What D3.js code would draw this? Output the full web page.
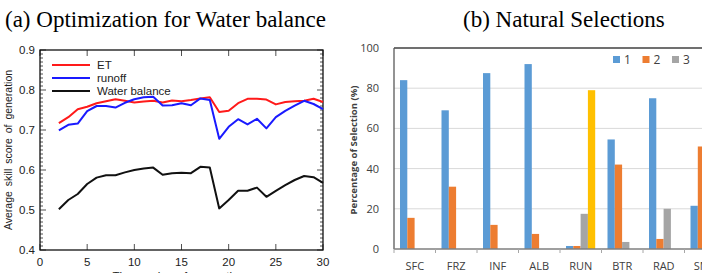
<!DOCTYPE html>
<html>
<head>
<meta charset="utf-8">
<script src="https://cdn.jsdelivr.net/npm/d3@7"></script>
<style>
  body { margin: 0; background: #fff; }
  svg { display: block; }
</style>
</head>
<body>
<svg id="chart" width="702" height="273"></svg>
<script>
// ---- (a) data: skill score per generation ----
let generations = [2,3,4,5,6,7,8,9,10,11,12,13,14,15,16,17,18,19,20,21,22,23,24,25,26,27,28,29,30];
let etScore = [0.717,0.732,0.752,0.758,0.767,0.772,0.777,0.773,0.769,0.771,0.773,0.769,0.774,0.772,0.775,0.779,0.782,0.745,0.748,0.767,0.778,0.778,0.776,0.764,0.770,0.772,0.773,0.778,0.770];
let runoffScore = [0.699,0.713,0.716,0.747,0.760,0.760,0.756,0.768,0.777,0.782,0.783,0.761,0.762,0.767,0.762,0.779,0.775,0.678,0.708,0.727,0.714,0.728,0.704,0.732,0.748,0.761,0.773,0.765,0.752];
let wbScore = [0.502,0.525,0.540,0.565,0.581,0.587,0.587,0.594,0.600,0.604,0.606,0.588,0.592,0.593,0.592,0.608,0.606,0.504,0.525,0.548,0.548,0.556,0.533,0.548,0.562,0.575,0.585,0.582,0.568];
let lineNames = ["ET", "runoff", "Water balance"];
let lineColors = ["#ff1a1a", "#1a1aff", "#111111"];
let yTicksA = [0.4,0.5,0.6,0.7,0.8,0.9];
let xTicksA = [0,5,10,15,20,25,30];

// ---- (b) data: percentage of selection ----
let params = ["SFC","FRZ","INF","ALB","RUN","BTR","RAD","SMC","VEG"];
let sel1 = [84,69,87.5,92,1.5,54.5,75,21.5,0];
let sel2 = [15.5,31,12,7.5,1.5,42,5,51,0];
let sel3 = [0,0,0,0,17.5,3.5,20,0,0];
let sel4 = [0,0,0,0,79,0,0,0,0];
let selNames = ["1","2","3"];
let barColors = ["#5b9bd5","#ed7d31","#a5a5a5","#ffc000"];
let yTicksB = [0,20,40,60,80,100];

const svg = d3.select("#chart");

// titles
svg.append("text").attr("x", 5).attr("y", 27)
  .style("font-family", "Liberation Serif, Times New Roman, serif")
  .style("font-size", "23px").text("(a) Optimization for Water balance");
svg.append("text").attr("x", 463).attr("y", 27)
  .style("font-family", "Liberation Serif, Times New Roman, serif")
  .style("font-size", "23px").text("(b) Natural Selections");

// ================= chart (a) =================
const ax = d3.scaleLinear().domain([0, 30]).range([40, 323]);
const ay = d3.scaleLinear().domain([0.4, 0.9]).range([250, 50]);
const ga = svg.append("g").style("font-family", "Liberation Sans, Arial, sans-serif");

// minor ticks on y, both sides
d3.range(0.4, 0.9001, 0.01).forEach((v, i) => {
  const major = i % 10 === 0;
  const len = major ? 6 : 3;
  ga.append("line").attr("x1", ax(0)).attr("x2", ax(0) + len)
    .attr("y1", ay(v)).attr("y2", ay(v)).attr("stroke", "#222").attr("stroke-width", 0.8);
  ga.append("line").attr("x1", ax(30)).attr("x2", ax(30) - len)
    .attr("y1", ay(v)).attr("y2", ay(v)).attr("stroke", "#222").attr("stroke-width", 0.8);
});
xTicksA.forEach((v) => {
  ga.append("line").attr("x1", ax(v)).attr("x2", ax(v))
    .attr("y1", ay(0.4)).attr("y2", ay(0.4) - 6).attr("stroke", "#222").attr("stroke-width", 0.8);
  ga.append("line").attr("x1", ax(v)).attr("x2", ax(v))
    .attr("y1", ay(0.9)).attr("y2", ay(0.9) + 6).attr("stroke", "#222").attr("stroke-width", 0.8);
  ga.append("text").attr("x", ax(v)).attr("y", 266)
    .attr("text-anchor", "middle").style("font-size", "11.5px").attr("fill", "#222")
    .text(v);
});
yTicksA.forEach((v) => {
  ga.append("text").attr("x", 35).attr("y", ay(v) + 4)
    .attr("text-anchor", "end").style("font-size", "11.5px").attr("fill", "#222")
    .text(d3.format(".1f")(v));
});
ga.append("rect").attr("x", ax(0)).attr("y", ay(0.9))
  .attr("width", ax(30) - ax(0)).attr("height", ay(0.4) - ay(0.9))
  .attr("fill", "none").attr("stroke", "#111").attr("stroke-width", 1.3);

ga.append("text").attr("transform", "translate(12,150) rotate(-90)")
  .attr("text-anchor", "middle").style("font-size", "10.5px").style("word-spacing", "2px")
  .attr("fill", "#222").text("Average skill score of generation");
ga.append("text").attr("x", ax(15)).attr("y", 280)
  .attr("text-anchor", "middle").style("font-size", "11.5px").attr("fill", "#222")
  .text("The number of generations");

const lineGen = d3.line().x((d) => ax(d[0])).y((d) => ay(d[1]));
[etScore, runoffScore, wbScore].forEach((series, k) => {
  const pts = generations.map((g, i) => [g, series[i]]);
  ga.append("path").datum(pts).attr("d", lineGen)
    .attr("fill", "none").attr("stroke", lineColors[k]).attr("stroke-width", 2)
    .attr("stroke-linejoin", "round");
});

// legend (a)
lineNames.forEach((name, k) => {
  const yy = 65 + k * 13;
  ga.append("line").attr("x1", 52).attr("x2", 90).attr("y1", yy).attr("y2", yy)
    .attr("stroke", lineColors[k]).attr("stroke-width", 2);
  ga.append("text").attr("x", 97).attr("y", yy + 4)
    .style("font-size", "11.5px").attr("fill", "#222").text(name);
});

// ================= chart (b) =================
const bx = d3.scaleBand().domain(params).range([394, 394 + 41.5 * params.length]).padding(0);
const bInner = d3.scaleBand().domain([0, 1, 2, 3]).range([6, 35.2]).padding(0);
const by = d3.scaleLinear().domain([0, 100]).range([249, 48]);
const gb = svg.append("g").style("font-family", "Open Sans, Liberation Sans, sans-serif");

yTicksB.forEach((v) => {
  if (v > 0 && v < 100) {
    gb.append("line").attr("x1", 394).attr("x2", 720).attr("y1", by(v)).attr("y2", by(v))
      .attr("stroke", "#d9d9d9").attr("stroke-width", 1);
  }
  gb.append("text").attr("x", 379).attr("y", by(v) + 4)
    .attr("text-anchor", "end").style("font-size", "11px").attr("fill", "#404040").text(v);
});
// top border
gb.append("line").attr("x1", 394).attr("x2", 720).attr("y1", by(100)).attr("y2", by(100))
  .attr("stroke", "#404040").attr("stroke-width", 1.3);

const allSel = [sel1, sel2, sel3, sel4];
allSel.forEach((series, k) => {
  gb.selectAll(null).data(params).enter().append("rect")
    .attr("x", (d) => bx(d) + bInner(k))
    .attr("width", bInner.bandwidth())
    .attr("y", (d, i) => by(series[i]))
    .attr("height", (d, i) => by(0) - by(series[i]))
    .attr("fill", barColors[k]);
});

// axes lines
gb.append("line").attr("x1", 394).attr("x2", 394).attr("y1", by(100)).attr("y2", by(0))
  .attr("stroke", "#595959").attr("stroke-width", 1.3);
gb.append("line").attr("x1", 394).attr("x2", 720).attr("y1", by(0)).attr("y2", by(0))
  .attr("stroke", "#7f7f7f").attr("stroke-width", 1.3);
params.forEach((p) => {
  gb.append("line").attr("x1", bx(p)).attr("x2", bx(p)).attr("y1", by(0)).attr("y2", by(0) + 4)
    .attr("stroke", "#a6a6a6").attr("stroke-width", 1);
  gb.append("text").attr("x", bx(p) + bx.bandwidth() / 2).attr("y", 270)
    .attr("text-anchor", "middle").style("font-size", "11px").attr("fill", "#404040").text(p);
});

gb.append("text").attr("transform", "translate(357,150) rotate(-90)")
  .attr("text-anchor", "middle").style("font-size", "9.5px").style("font-weight", "bold")
  .attr("fill", "#404040").text("Percentage of Selection (%)");

// legend (b)
selNames.forEach((name, k) => {
  const lx = 613 + k * 29.5;
  gb.append("rect").attr("x", lx).attr("y", 56).attr("width", 7).attr("height", 7)
    .attr("fill", barColors[k]);
  gb.append("text").attr("x", lx + 11).attr("y", 64)
    .style("font-size", "12px").attr("fill", "#404040").text(name);
});
</script>
</body>
</html>
